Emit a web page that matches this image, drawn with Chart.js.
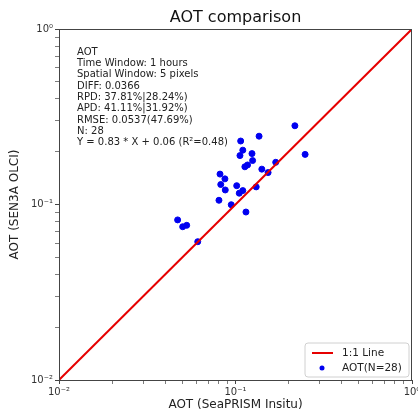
<!DOCTYPE html>
<html>
<head>
<meta charset="utf-8">
<script src="https://cdn.jsdelivr.net/npm/chart.js@4.4.1/dist/chart.umd.min.js"></script>
<style>
  body { margin: 0; background: #fff; }
</style>
</head>
<body>
<canvas id="aot" width="418" height="412"></canvas>
<script>
// SeaPRISM insitu AOT (x) vs SEN3A OLCI AOT (y)
var insitu = [0.217, 0.248, 0.136, 0.107, 0.110, 0.106, 0.124, 0.125, 0.117, 0.113,
              0.141, 0.169, 0.153, 0.0817, 0.0871, 0.0825, 0.0875, 0.1016, 0.110, 0.105,
              0.131, 0.0806, 0.0946, 0.1146, 0.0470, 0.0502, 0.0529, 0.0611];
var olci   = [0.281, 0.193, 0.245, 0.230, 0.204, 0.190, 0.195, 0.178, 0.168, 0.164,
              0.159, 0.174, 0.152, 0.149, 0.140, 0.130, 0.121, 0.128, 0.120, 0.116,
              0.126, 0.1057, 0.0997, 0.0906, 0.0817, 0.0747, 0.0761, 0.0614];
var oneToOne = [0.01, 1];
var majorTicks = [0.01, 0.1, 1];
var tickLabels = ['10\u207B\u00B2', '10\u207B\u00B9', '10\u2070'];
var statsLines = [
    'AOT',
    'Time Window: 1 hours',
    'Spatial Window: 5 pixels',
    'DIFF: 0.0366',
    'RPD: 37.81%|28.24%)',
    'APD: 41.11%|31.92%)',
    'RMSE: 0.0537(47.69%)',
    'N: 28',
    'Y = 0.83 * X + 0.06 (R\u00B2=0.48)'
];

var FONT = 'DejaVu Sans';

// major + minor ticks of the log axis
function logTicks(){
    var t = [];
    for (var d = 0; d < majorTicks.length - 1; d++) {
        for (var k = 1; k < 10; k++) t.push({value: majorTicks[d] * k});
    }
    t.push({value: majorTicks[majorTicks.length - 1]});
    return t;
}
function tickText(v){
    for (var i = 0; i < majorTicks.length; i++) {
        if (Math.abs(v - majorTicks[i]) < majorTicks[i] * 1e-6) return tickLabels[i];
    }
    return '';
}
function isMajor(v){ return tickText(v) !== ''; }

var extras = {
    id: 'extras',
    afterDraw: function(chart){
        var c = chart.ctx, a = chart.chartArea;
        c.save();
        // frame
        c.strokeStyle = '#444';
        c.lineWidth = 1;
        c.strokeRect(a.left + 0.5, a.top + 0.5, a.right - a.left - 1, a.bottom - a.top);
        // stats text
        c.fillStyle = '#222';
        c.font = '10px "' + FONT + '"';
        c.textBaseline = 'middle';
        c.textAlign = 'left';
        statsLines.forEach(function(s, i){
            c.fillText(s, a.left + 18, 52 + i * 11.35);
        });
        // legend
        var ds = chart.data.datasets;
        var bx = a.right - 107, by = a.bottom - 37, bw = 104, bh = 34;
        c.beginPath();
        c.roundRect(bx, by, bw, bh, 3);
        c.fillStyle = 'rgba(255,255,255,0.8)';
        c.fill();
        c.strokeStyle = '#d0d0d0';
        c.stroke();
        c.font = '10.5px "' + FONT + '"';
        c.fillStyle = '#222';
        // line entry
        c.strokeStyle = ds[0].borderColor;
        c.lineWidth = 2;
        c.beginPath();
        c.moveTo(bx + 7, by + 10);
        c.lineTo(bx + 28, by + 10);
        c.stroke();
        c.fillText(ds[0].label, bx + 37, by + 10);
        // point entry
        c.fillStyle = ds[1].backgroundColor;
        c.beginPath();
        c.arc(bx + 17, by + 25, 2.5, 0, Math.PI * 2);
        c.fill();
        c.fillStyle = '#222';
        c.fillText(ds[1].label, bx + 37, by + 25);
        c.restore();
    }
};

function axis(title, isX){
    return {
        type: 'logarithmic',
        min: 0.01,
        max: 1,
        afterBuildTicks: function(s){ s.ticks = logTicks(); },
        afterFit: function(s){
            if (isX) { s.height = 32; s.paddingLeft = 0; s.paddingRight = 0; }
            else { s.width = 59; s.paddingTop = 0; s.paddingBottom = 0; }
        },
        ticks: {
            autoSkip: false,
            maxRotation: 0,
            padding: 2,
            color: '#333',
            font: {family: FONT, size: 10},
            callback: function(v){ return tickText(v); }
        },
        grid: {
            drawOnChartArea: false,
            tickLength: 4,
            color: '#444',
            tickWidth: function(ctx){ return ctx.tick && isMajor(ctx.tick.value) ? 1 : 0.7; }
        },
        border: {color: '#444'},
        title: {
            display: true,
            text: title,
            color: '#222',
            font: {family: FONT, size: 12},
            padding: isX ? {top: 0, bottom: 0} : {top: 8, bottom: 0}
        }
    };
}

var ctx = document.getElementById('aot').getContext('2d');
var chart = new Chart(ctx, {
    type: 'scatter',
    data: {
        datasets: [{
            type: 'line',
            label: '1:1 Line',
            data: oneToOne.map(function(v){ return {x: v, y: v}; }),
            borderColor: 'rgb(230,0,0)',
            borderWidth: 2,
            pointRadius: 0,
            order: 0
        }, {
            label: 'AOT(N=28)',
            data: insitu.map(function(v, i){ return {x: v, y: olci[i]}; }),
            backgroundColor: 'rgb(0,0,240)',
            borderColor: 'rgb(0,0,240)',
            pointRadius: 3,
            order: 1
        }]
    },
    options: {
        responsive: false,
        animation: false,
        layout: {padding: {left: 0, right: 6, top: 0, bottom: 0}},
        scales: {
            x: axis('AOT (SeaPRISM Insitu)', true),
            y: axis('AOT (SEN3A OLCI)', false)
        },
        plugins: {
            legend: {display: false},
            tooltip: {enabled: false},
            title: {
                display: true,
                text: 'AOT comparison',
                fullSize: false,
                color: '#111',
                font: {family: FONT, size: 16, weight: 'normal'},
                padding: {top: 8, bottom: 1.8}
            }
        }
    },
    plugins: [extras]
});
</script>
</body>
</html>
